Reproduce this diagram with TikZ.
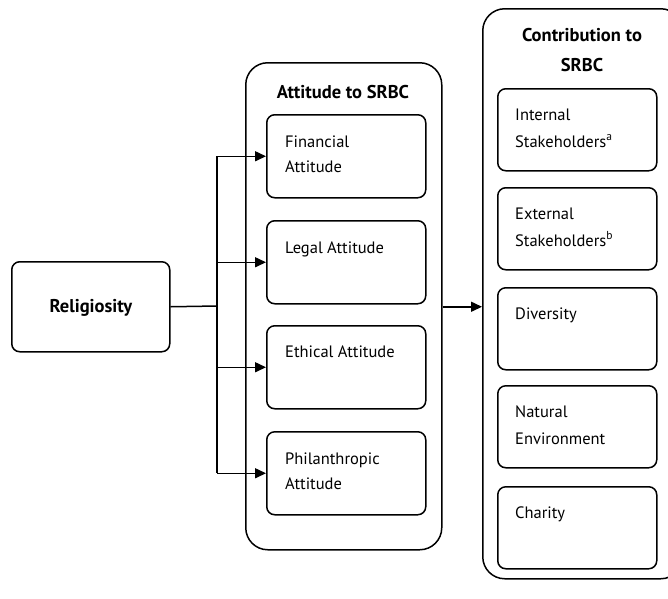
\documentclass[tikz,border=0pt]{standalone}
\usepackage{fontspec}
\setmainfont{PT Sans}
\usetikzlibrary{arrows.meta}
\tikzset{
  box/.style={draw, line width=1.5pt, rounded corners=8pt, inner sep=0pt, anchor=north west},
  container/.style={draw, line width=1.5pt, rounded corners=22pt, inner sep=0pt, anchor=north west},
  lbl/.style={anchor=base west, inner sep=0pt, font=\fontsize{16.5}{19}\selectfont},
  ttl/.style={anchor=base, inner sep=0pt, font=\fontsize{18.5}{21}\selectfont\bfseries},
  conn/.style={line width=1.5pt},
  arr/.style={line width=1.5pt, -{Triangle[length=11pt,width=10pt]}}
}
\begin{document}
\begin{tikzpicture}[x=1pt,y=-1pt]
\clip (0,0) rectangle (668,598);
\fill[white] (0,0) rectangle (668,598);
% Religiosity
\node[box, minimum width=158pt, minimum height=90pt] (rel) at (11,261) {};
\node[ttl] (reltxt) at (91,312) {Religiosity};
% Attitude container
\node[container, minimum width=196pt, minimum height=487pt] (att) at (245,62) {};
\node[ttl] (atttxt) at (343,98) {Attitude to SRBC};
\node[box, minimum width=159pt, minimum height=83pt] (fin) at (266,114) {};
\node[box, minimum width=159pt, minimum height=83pt] (leg) at (266,220) {};
\node[box, minimum width=159pt, minimum height=83pt] (eth) at (266,325) {};
\node[box, minimum width=159pt, minimum height=83pt] (phi) at (266,431) {};
\node[lbl] (fin1) at (285,147) {Financial};
\node[lbl] (fin2) at (285,172) {Attitude};
\node[lbl] (leg1) at (285,253) {Legal Attitude};
\node[lbl] (eth1) at (285,357) {Ethical Attitude};
\node[lbl] (phi1) at (285,464) {Philanthropic};
\node[lbl] (phi2) at (285,489) {Attitude};
% Contribution container
\node[container, minimum width=200pt, minimum height=570pt] (con) at (482,8) {};
\node[ttl] (contxt1) at (582,41) {Contribution to};
\node[ttl] (contxt2) at (582,71) {SRBC};
\node[box, minimum width=159pt, minimum height=82pt] (int) at (497,88) {};
\node[box, minimum width=159pt, minimum height=82pt] (ext) at (497,187) {};
\node[box, minimum width=159pt, minimum height=82pt] (div) at (497,287) {};
\node[box, minimum width=159pt, minimum height=82pt] (nat) at (497,385) {};
\node[box, minimum width=159pt, minimum height=82pt] (cha) at (497,486) {};
\node[lbl] (int1) at (515,120) {Internal};
\node[lbl] (int2) at (515,147) {Stakeholders\textsuperscript{a}};
\node[lbl] (ext1) at (515,219) {External};
\node[lbl] (ext2) at (515,246) {Stakeholders\textsuperscript{b}};
\node[lbl] (div1) at (515,319) {Diversity};
\node[lbl] (nat1) at (515,417) {Natural};
\node[lbl] (nat2) at (515,444) {Environment};
\node[lbl] (cha1) at (515,518) {Charity};
% connectors
\coordinate (trunk) at (217,306);
\draw[conn] (rel.east) -- (trunk);
\draw[conn] (trunk |- fin.west) -- (trunk |- phi.west);
\draw[arr] (trunk |- fin.west) -- (fin.west);
\draw[arr] (trunk |- leg.west) -- (leg.west);
\draw[arr] (trunk |- eth.west) -- (eth.west);
\draw[arr] (trunk |- phi.west) -- (phi.west);
\draw[arr] (att.east |- rel.east) -- (con.west |- rel.east);
\end{tikzpicture}
\end{document}
